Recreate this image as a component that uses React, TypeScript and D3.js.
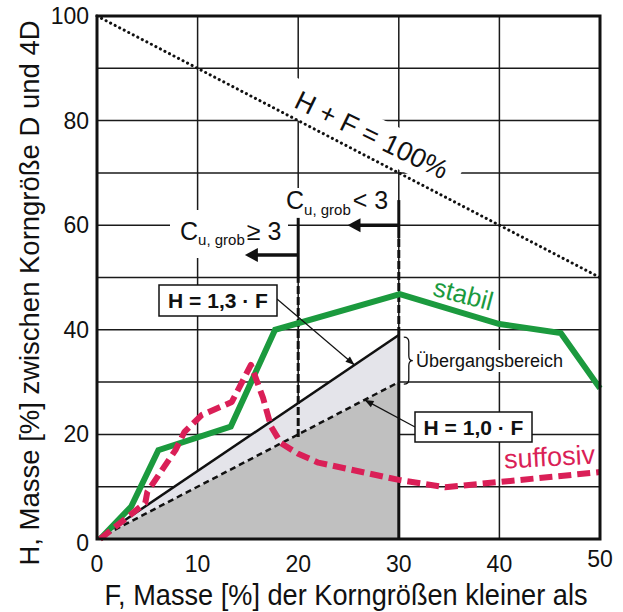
import React from 'react';
import * as d3 from 'd3';

// ---- data ----
const F_TICKS = [0, 10, 20, 30, 40, 50];
const H_TICKS = [0, 20, 40, 60, 80, 100];
const F_GRID = [10, 20, 30, 40];
const H_GRID = [10, 20, 30, 40, 50, 60, 70, 80, 90];

const STABIL_F = [0.3, 3.4, 6.1, 13.3, 17.7, 30.1, 40, 46.1, 50];
const STABIL_H = [0, 6.2, 17, 21.5, 40, 46.8, 41.1, 39.4, 28.8];

const SUFFOSIV_F = [0.3, 4.8, 5.0, 7.8, 8.7, 10.4, 13.4, 15.3, 16.5, 17.3, 18.3, 20, 22, 30, 34.6, 40, 50];
const SUFFOSIV_H = [0, 6.9, 9, 17, 20.5, 23.7, 26.2, 33.3, 27, 21.5, 18.3, 16.3, 14.6, 11.3, 9.9, 10.9, 12.8];

const LIMIT_F = [0, 50];
const LIMIT_H = [100, 50];
const RATIO_UPPER = 1.3;
const RATIO_LOWER = 1.0;
const F_RATIO_END = 30;

const W = 623;
const H = 612;
const FONT = "'Liberation Sans', Arial, sans-serif";
const GREEN = '#1b9a3e';
const RED = '#da1f57';

function head(tx: number, ty: number, fx: number, fy: number, len: number, hw: number) {
  const dx = tx - fx, dy = ty - fy;
  const L = Math.hypot(dx, dy);
  const ux = dx / L, uy = dy / L;
  const bx = tx - ux * len, by = ty - uy * len;
  return `M${tx},${ty}L${bx - uy * hw},${by + ux * hw}L${bx + uy * hw},${by - ux * hw}Z`;
}

export default function App() {
  const x = d3.scaleLinear().domain([0, 50]).range([97, 600]);
  const y = d3.scaleLinear().domain([0, 100]).range([539, 16]);
  const line = d3.line<[number, number]>().x(d => x(d[0])).y(d => y(d[1]));

  const stabil = STABIL_F.map((f, i) => [f, STABIL_H[i]] as [number, number]);
  const suff = SUFFOSIV_F.map((f, i) => [f, SUFFOSIV_H[i]] as [number, number]);
  const limit = LIMIT_F.map((f, i) => [f, LIMIT_H[i]] as [number, number]);

  const darkArea = line([[0, 0], [F_RATIO_END, 0], [F_RATIO_END, F_RATIO_END * RATIO_LOWER]])! + 'Z';
  const lightArea = line([[0, 0], [F_RATIO_END, F_RATIO_END * RATIO_LOWER], [F_RATIO_END, F_RATIO_END * RATIO_UPPER]])! + 'Z';

  const x20 = x(20), x30 = x(30);
  const arrow30Y = y(60);
  const arrow20Y = y(54.3);
  const arrow30Tip = x(24.9);
  const arrow20Tip = x(14.7);

  const a13from = [277, 299];
  const a13tip = [x(25.6), y(25.6 * RATIO_UPPER)];
  const a10from = [415, 427];
  const a10tip = [x(26.6), y(26.6 * RATIO_LOWER)];

  const braceX = x(30) + 5;
  const bTop = y(38.6), bBot = y(29.6), bMid = (bTop + bBot) / 2;
  const brace = `M${braceX},${bTop} Q${braceX + 5},${bTop} ${braceX + 5},${bTop + 5} L${braceX + 5},${bMid - 5} Q${braceX + 5},${bMid} ${braceX + 9},${bMid} Q${braceX + 5},${bMid} ${braceX + 5},${bMid + 5} L${braceX + 5},${bBot - 5} Q${braceX + 5},${bBot} ${braceX},${bBot}`;

  const hfCx = x(27.3), hfCy = y(77.2);

  return (
    <svg width={W} height={H} style={{ position: 'absolute', left: 0, top: 0, background: '#fff' }} fontFamily={FONT}>
      <rect x={0} y={0} width={W} height={H} fill="#fff" />
      {F_GRID.map(f => (
        <line key={'gx' + f} x1={x(f)} x2={x(f)} y1={y(0)} y2={y(100)} stroke="#1a1a1a" strokeWidth={1.5} />
      ))}
      {H_GRID.map(h => (
        <line key={'gy' + h} x1={x(0)} x2={x(50)} y1={y(h)} y2={y(h)} stroke="#1a1a1a" strokeWidth={1.5} />
      ))}

      <rect x={-97} y={-19} width={194} height={38} fill="#fff" transform={`translate(${hfCx},${hfCy}) rotate(26)`} />
      <rect x={170} y={210} width={118} height={48} fill="#fff" />
      <rect x={283} y={188} width={113} height={30} fill="#fff" />
      <rect x={414} y={350} width={153} height={22} fill="#fff" />

      <path d={darkArea} fill="#c0c0c0" />
      <path d={lightArea} fill="#e4e4ea" />

      <path d={line([[0, 0], [F_RATIO_END, F_RATIO_END * RATIO_UPPER]])!} stroke="#111" strokeWidth={2.5} fill="none" />
      <path d={line([[0, 0], [F_RATIO_END, F_RATIO_END * RATIO_LOWER]])!} stroke="#111" strokeWidth={2.5} strokeDasharray="6 4" fill="none" />

      <path d={line(limit)!} stroke="#111" strokeWidth={3} strokeDasharray="0.1 5" strokeLinecap="round" fill="none" />

      <line x1={x30} x2={x30} y1={y(0)} y2={y(F_RATIO_END * RATIO_UPPER)} stroke="#111" strokeWidth={3} />
      <line x1={x30} x2={x30} y1={y(F_RATIO_END * RATIO_UPPER)} y2={y(57.5)} stroke="#111" strokeWidth={3} strokeDasharray="8 3" />
      <line x1={x30} x2={x30} y1={y(57.5)} y2={y(64.8)} stroke="#111" strokeWidth={3} />
      <line x1={x20} x2={x20} y1={y(19.5)} y2={y(49)} stroke="#111" strokeWidth={3} strokeDasharray="8 3" />
      <line x1={x20} x2={x20} y1={y(49)} y2={y(61.4)} stroke="#111" strokeWidth={3} />

      <line x1={x30} x2={arrow30Tip + 10} y1={arrow30Y} y2={arrow30Y} stroke="#111" strokeWidth={3.5} />
      <path d={head(arrow30Tip, arrow30Y, x30, arrow30Y, 13, 7)} fill="#111" />
      <line x1={x20} x2={arrow20Tip + 10} y1={arrow20Y} y2={arrow20Y} stroke="#111" strokeWidth={3.5} />
      <path d={head(arrow20Tip, arrow20Y, x20, arrow20Y, 13, 7)} fill="#111" />

      <path d={line(stabil)!} stroke={GREEN} strokeWidth={6} fill="none" strokeLinejoin="miter" />
      <path d={line(suff)!} stroke={RED} strokeWidth={6} strokeDasharray="13 6" fill="none" strokeLinejoin="round" />

      <rect x={x(0)} y={y(100)} width={x(50) - x(0)} height={y(0) - y(100)} fill="none" stroke="#111" strokeWidth={3} />

      <line x1={a13from[0]} y1={a13from[1]} x2={a13tip[0]} y2={a13tip[1]} stroke="#111" strokeWidth={1.2} />
      <path d={head(a13tip[0], a13tip[1], a13from[0], a13from[1], 9, 3.5)} fill="#111" />
      <line x1={a10from[0]} y1={a10from[1]} x2={a10tip[0]} y2={a10tip[1]} stroke="#111" strokeWidth={1.2} />
      <path d={head(a10tip[0], a10tip[1], a10from[0], a10from[1], 9, 3.5)} fill="#111" />

      <rect x={159} y={285} width={118} height={31} fill="#fff" stroke="#111" strokeWidth={1.5} />
      <text x={218} y={308} fontSize={21} fontWeight="bold" textAnchor="middle" fill="#111">H = 1,3 · F</text>
      <rect x={415} y={412} width={117} height={30} fill="#fff" stroke="#111" strokeWidth={1.5} />
      <text x={473.5} y={434.5} fontSize={21} fontWeight="bold" textAnchor="middle" fill="#111">H = 1,0 · F</text>

      <path d={brace} stroke="#111" strokeWidth={1.3} fill="none" />
      <text x={416} y={367} fontSize={18} fill="#111">Übergangsbereich</text>

      <text x={0} y={0} fontSize={27} textAnchor="middle" dominantBaseline="central" fill="#111" transform={`translate(${hfCx},${hfCy}) rotate(26)`}>H + F = 100%</text>

      <text x={286} y={209} fontSize={25} fill="#111">C<tspan fontSize={15} dy={6}>u, grob</tspan><tspan fontSize={25} dy={-6} dx={2}>&lt; 3</tspan></text>
      <text x={180} y={240} fontSize={25} fill="#111">C<tspan fontSize={15} dy={5}>u, grob</tspan><tspan fontSize={25} dy={-5} dx={2}>≥ 3</tspan></text>

      <text x={0} y={0} fontSize={26} fill={GREEN} textAnchor="middle" transform={`translate(461,303) rotate(15)`}>stabil</text>
      <text x={0} y={0} fontSize={27} fill={RED} textAnchor="middle" transform={`translate(550,466) rotate(-3)`}>suffosiv</text>

      {H_TICKS.map(h => (
        <text key={'ty' + h} x={89} y={y(h) + (h === 0 ? 12 : 8)} fontSize={23} textAnchor="end" fill="#111">{h}</text>
      ))}
      {F_TICKS.map(f => (
        <text key={'tx' + f} x={x(f)} y={f === 50 ? 567 : 572} fontSize={23} textAnchor="middle" fill="#111">{f}</text>
      ))}

      <text x={346} y={605} fontSize={29} textAnchor="middle" textLength={483} lengthAdjust="spacingAndGlyphs" fill="#111">F, Masse [%] der Korngrößen kleiner als</text>
      <text x={0} y={0} fontSize={28} textAnchor="middle" textLength={545} lengthAdjust="spacingAndGlyphs" fill="#111" transform="translate(39,293) rotate(-90)">H, Masse [%] zwischen Korngröße D und 4D</text>
    </svg>
  );
}
